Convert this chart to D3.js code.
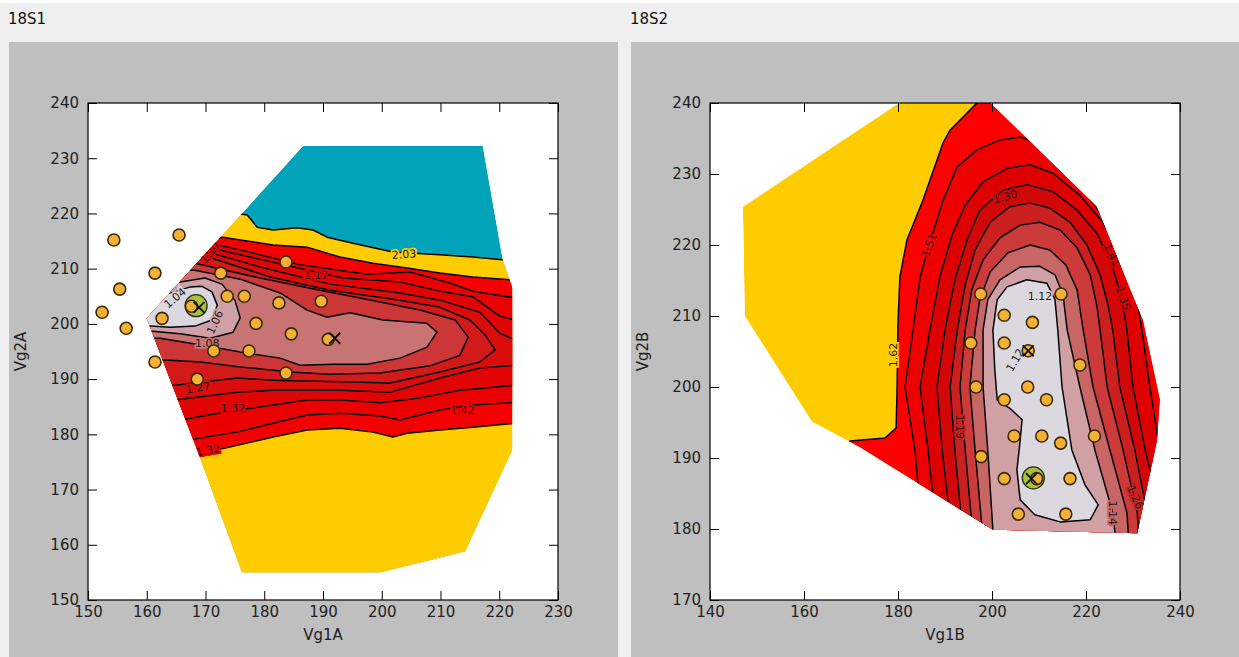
<!DOCTYPE html>
<html>
<head>
<meta charset="utf-8">
<script src="https://cdn.jsdelivr.net/npm/d3@7"></script>
<style>
  body { margin: 0; background: #efefef; }
  svg { display: block; font-family: "DejaVu Sans", sans-serif; }
</style>
</head>
<body>
<svg></svg>
<script>
// ---------- panel 1 (18S1) ----------
const xTicks1 = [150, 160, 170, 180, 190, 200, 210, 220, 230];
const yTicks1 = [150, 160, 170, 180, 190, 200, 210, 220, 230, 240];

// convex hull of the sampled region (Vg1A, Vg2A)
const hull1 = [[160,201],[186.6,232.2],[217.2,232.2],[220.6,211.6],[222.2,206.7],[222.2,177.1],[214.2,158.8],[199.7,155],[176.2,155],[168.8,176.5]];

// nested level regions, outer to inner
const gold1 = [[175.0,220.1],[177.1,219.7],[178.8,217.5],[181.5,217.0],[185.6,217.4],[188.3,217.0],[190.7,215.7],[195.1,214.6],[201.9,213.0],[209.9,212.5],[215.5,212.1],[220.5,211.6],[232,211.4],[232,140],[140,140],[140,220.1]];
const red1 = [[168.2,215.5],[170.8,215.2],[173.0,215.7],[175.9,215.2],[181.5,214.3],[187.3,213.9],[192.9,212.1],[198.5,211.0],[204.3,210.1],[209.9,209.2],[215.5,208.5],[222.7,207.9],[232,207.9],[232,182.0],
  [222.7,182.0],[215.5,181.3],[209.9,180.8],[204.3,180.2],[201.9,179.5],[198.5,180.4],[192.9,181.1],[187.3,180.8],[181.5,179.5],[175.4,178.0],[167.9,176.2],[140,176.2],[140,215.5]];
const s1 = [[168.2,214.6],[171.1,214.5],[175.9,213.4],[186.1,210.7],[197.5,209.0],[204.8,209.4],[211.6,207.4],[215.5,205.9],[222.7,204.7],[232,204.7],[232,185.8],
  [222.7,185.8],[215.5,185.3],[209.9,184.4],[203.1,182.6],[199.7,183.3],[192.9,183.8],[187.3,183.5],[181.5,182.0],[175.4,180.4],[166.5,178.9],[140,178.9],[140,214.6]];
const s2 = [[168.2,213.9],[171.1,213.7],[177.6,212.1],[193.4,208.3],[203.1,207.6],[210.4,205.8],[215.5,204.9],[220.1,201.4],[222.7,200.7],[232,200.7],[232,188.9],
  [222.7,188.9],[213.3,188.0],[206.5,186.6],[199.7,185.7],[192.9,186.2],[187.3,186.2],[181.5,185.3],[175.4,184.4],[165.7,182.6],[140,182.6],[140,213.9]];
const s3 = [[168.2,213.2],[171.1,212.8],[179.3,210.3],[191.2,207.2],[203.1,205.6],[209.9,204.3],[216.7,202.1],[220.1,198.3],[222.7,197.1],[232,197.1],[232,192.5],
  [222.7,192.5],[216.7,192.0],[209.9,190.2],[201.4,187.6],[192.9,188.0],[181.5,188.0],[175.4,187.6],[164.8,186.2],[140,186.2],[140,213.2]];
const s4 = [[168.2,212.3],[171.1,211.9],[181.0,208.5],[191.2,206.1],[203.1,204.3],[209.9,203.0],[215.0,200.7],[217.6,198.0],[219.3,195.3],[216.7,193.1],[209.9,191.3],
  [201.4,189.3],[192.9,189.5],[181.5,189.8],[175.4,190.2],[164.8,188.9],[140,188.9],[140,212.3]];
const m1 = [[168.2,211.0],[179.3,208.3],[189.5,206.1],[196.3,204.7],[206.5,202.5],[212.5,200.7],[214.7,197.6],[213.3,194.3],[208.2,192.4],[199.7,191.1],[191.2,190.9],
  [184.4,191.3],[175.9,192.2],[169.1,193.1],[164.0,193.4],[140,193.4],[140,211.0]];
const p1 = [[168.2,209.7],[175.9,208.1],[182.7,205.6],[187.3,202.5],[190.7,201.2],[194.6,202.0],[200.2,200.7],[207.7,200.1],[209.4,198.5],[207.7,195.8],[203.1,193.8],
  [197.5,192.7],[191.7,192.7],[186.1,192.5],[182.7,193.8],[175.9,194.9],[170.3,196.0],[162.3,197.4],[140,197.4],[140,209.7]];
const l1 = [[165.7,207.6],[169.9,208.3],[172.8,207.2],[175.0,204.3],[175.9,201.1],[174.7,198.5],[170.8,197.4],[165.7,198.2],[160.6,198.7],[140,198.7],[140,207.6]];
const c1 = [[162.3,205.2],[164.8,205.8],[167.4,206.7],[169.4,206.8],[171.1,205.8],[172.0,203.4],[171.1,200.7],[168.2,199.6],[164.0,199.4],[160.6,199.6],[140,199.6],[140,205.2]];
const bands1 = [hull1, gold1, red1, s1, s2, s3, s4, m1, p1, l1, c1];
const fills1 = ["#00a3b9", "#ffcc00", "#f40000", "#ea0000", "#e20404", "#da0c0c", "#d21a1a", "#cc3636", "#c87474", "#d0a0a8", "#dcd8e0"];

const labels1 = [["2.03",203.8,212.6,-4],["1.17",188.8,208.8,0],["1.17",170.8,213.0,-50],["1.04",164.8,204.7,-40],["1.06",171.6,200.3,-65],
  ["1.08",170.3,196.5,0],["1.27",168.7,188.4,-10],["1.32",174.7,184.7,0],["1.42",213.7,184.4,0],["1.32",170.4,177.1,-10]];

const pts1 = [[154.4,215.2],[165.5,216.1],[155.4,206.3],[161.4,209.2],[152.4,202.1],[156.5,199.2],[161.4,193.1],[162.6,201.0],[172.6,209.2],[173.7,205.0],[176.6,205.0],
  [171.4,195.1],[178.6,200.1],[177.4,195.1],[182.5,203.8],[183.7,211.2],[184.6,198.2],[189.7,204.1],[190.9,197.2],[183.7,191.1],[168.6,190.0],[167.6,203.2]];
const best1 = [168.4,203.3];
const cross1 = [[168.9,203.0],[192.0,197.4]];

// ---------- panel 2 (18S2) ----------
const xTicks2 = [140, 160, 180, 200, 220, 240];
const yTicks2 = [170, 180, 190, 200, 210, 220, 230, 240];

const hull2 = [[147.0,225.4],[191.8,245.1],[222.3,225.4],[229.4,213.7],[232.1,209.4],[235.7,198.2],[235.1,192.5],[230.9,179.4],[200.2,179.9],[171.9,191.5],[161.7,195.1],[147.4,210.0]];
const red2 = [[199.6,243.2],[196.8,240],[191.1,236.2],[189.6,234.4],[185.3,226.3],[181.9,220.7],[180.4,215.5],[180.0,209.0],[179.8,199.6],[179.6,194.2],[177.2,192.8],
  [169.8,192.4],[167.7,189.7],[167,170],[250,170],[250,250],[205,250]];
const a2 = [[185.7,175.6],[183.6,191.1],[181.5,200.0],[183.2,208.0],[184.7,215.5],[187.4,221.7],[189.6,226.3],[192.6,231.0],[196.8,233.4],[201.7,234.8],[206.0,235.2],
  [210.2,234.4],[216.0,230.6],[221.5,225.9],[227.2,220.7],[231.5,213.7],[234.0,208.0],[235.7,200.0],[238.3,191.1],[241.1,175.6]];
const b2 = [[188.9,175.6],[186.4,191.1],[184.7,200.0],[186.8,208.0],[188.9,215.5],[191.5,221.4],[194.3,225.6],[198.1,228.9],[203.2,230.8],[208.1,231.3],[213.0,230.1],
  [218.7,227.0],[223.6,223.2],[227.9,217.9],[230.9,212.3],[231.9,208.0],[233.6,200.0],[235.7,191.1],[237.9,182.3],[238.9,175.6]];
const c2 = [[192.1,175.6],[189.4,191.1],[188.3,200.0],[190.0,208.0],[192.1,215.1],[194.7,220.7],[197.4,224.9],[202.3,227.7],[207.4,228.5],[213.0,227.5],[218.1,224.9],
  [222.3,221.7],[225.5,217.2],[227.7,212.3],[228.7,208.0],[230.0,200.0],[232.6,191.1],[235.7,182.3],[236.8,175.6]];
const d2 = [[194.3,175.6],[192.1,191.1],[191.1,200.0],[192.6,208.0],[194.3,214.4],[196.4,219.3],[199.6,223.2],[203.8,225.4],[208.1,225.9],[212.3,225.2],[216.6,223.2],
  [220.2,220.0],[223.0,215.8],[224.7,211.5],[225.7,208.0],[227.2,200.0],[230.4,191.1],[233.0,182.3],[233.6,175.6]];
const e2 = [[196.4,175.6],[194.3,191.1],[193.2,200.0],[194.3,208.0],[195.7,213.7],[198.1,217.9],[201.7,221.0],[206.0,222.8],[210.2,223.2],[214.5,222.1],[218.1,219.6],
  [220.9,215.8],[222.3,211.5],[223.0,208.0],[224.5,200.0],[227.9,191.1],[230.9,182.3],[231.5,175.6]];
const f2 = [[198.5,175.6],[196.4,191.1],[195.3,200.0],[196.4,208.0],[197.4,212.3],[199.6,216.2],[203.4,218.9],[208.1,220.0],[212.3,219.3],[215.7,217.2],[218.1,213.7],
  [219.4,208.0],[221.5,200.0],[225.1,191.1],[228.7,182.3],[229.4,175.6]];
const g2 = [[200.6,175.6],[199.1,191.1],[198.1,200.0],[198.1,208.0],[199.1,212.3],[201.7,215.1],[206.0,216.9],[210.2,217.0],[213.4,215.8],[215.1,213.0],[216.0,208.0],
  [218.7,200.0],[221.9,191.1],[225.7,182.3],[226.8,175.6]];
const h2 = [[203.2,214.1],[207.4,215.1],[211.7,214.6],[213.4,212.3],[214.0,208.0],[214.9,200.0],[217.0,191.1],[219.8,186.2],[222.6,183.4],[220.9,181.3],[214.5,181.0],
  [209.1,182.0],[206.0,184.1],[205.3,188.3],[206.0,192.5],[206.4,195.4],[203.8,197.0],[201.1,198.2],[200.6,202.4],[200.2,208.0],[201.1,212.3]];
const bands2 = [hull2, red2, a2, b2, c2, d2, e2, f2, g2, h2];
const fills2 = ["#ffcc00", "#ff0000", "#ee0000", "#de0000", "#d20808", "#cc1f1f", "#cc3a3a", "#c86666", "#d0a0a4", "#dcd8e0"];

const labels2 = [["1.30",202.8,226.8,-15],["1.51",186.6,220.0,-70],["1.62",178.9,204.5,-90],["1.12",210.2,212.8,0],["1.12",204.9,203.8,-60],
  ["1.19",193.2,194.4,90],["1.14",225.7,182.3,90],["1.41",225.5,218.6,65],["1.35",227.9,212.5,70],["1.26",230.5,184.5,65]];

const pts2 = [[197.6,213.1],[214.7,213.1],[202.6,210.1],[208.6,209.1],[195.5,206.2],[202.6,206.2],[207.7,205.1],[218.7,203.1],[196.6,200.0],[207.6,200.0],[202.6,198.2],
  [211.6,198.2],[204.7,193.1],[210.6,193.1],[214.6,192.1],[221.8,193.1],[197.7,190.2],[202.6,187.1],[209.5,187.1],[216.6,187.1],[205.6,182.1],[215.7,182.1]];
const best2 = [208.8,187.2];
const cross2 = [[207.7,205.1],[208.4,187.1]];

// ---------- layout ----------
const W = 1239, H = 657;
const svg = d3.select("svg").attr("width", W).attr("height", H);
svg.append("rect").attr("width", W).attr("height", H).attr("fill", "#efefef");
svg.append("rect").attr("width", W).attr("height", 3).attr("fill", "#ffffff");
const defs = svg.append("defs");

const panels = [
  {title: "18S1", box: [9, 609], plot: [88, 558, 103, 600], xDom: [150, 230], yDom: [150, 240], xt: xTicks1, yt: yTicks1,
   xl: "Vg1A", yl: "Vg2A", ylx: 26, bands: bands1, fills: fills1, labels: labels1, pts: pts1, best: best1, crosses: cross1},
  {title: "18S2", box: [631, 608], plot: [710, 1180, 103, 600], xDom: [140, 240], yDom: [170, 240], xt: xTicks2, yt: yTicks2,
   xl: "Vg1B", yl: "Vg2B", ylx: 648, bands: bands2, fills: fills2, labels: labels2, pts: pts2, best: best2, crosses: cross2}
];

panels.forEach((p, i) => {
  const [pl, pr, pt, pb] = p.plot;
  const x = d3.scaleLinear().domain(p.xDom).range([pl, pr]);
  const y = d3.scaleLinear().domain(p.yDom).range([pb, pt]);
  const line = d3.line().x(d => x(d[0])).y(d => y(d[1]));

  // panel background + title
  svg.append("rect").attr("x", p.box[0]).attr("y", 42).attr("width", p.box[1]).attr("height", H - 42).attr("fill", "#bfbfbf");
  svg.append("text").attr("x", p.box[0] - 1).attr("y", 24).attr("font-size", 15).attr("fill", "#111").text(p.title);

  defs.append("clipPath").attr("id", "plot" + i).append("rect")
    .attr("x", pl).attr("y", pt).attr("width", pr - pl).attr("height", pb - pt);
  defs.append("clipPath").attr("id", "hull" + i).append("path").attr("d", line(p.bands[0]) + "Z");

  svg.append("rect").attr("x", pl).attr("y", pt).attr("width", pr - pl).attr("height", pb - pt).attr("fill", "#fff");

  const gPlot = svg.append("g").attr("clip-path", `url(#plot${i})`);
  const gHull = gPlot.append("g").attr("clip-path", `url(#hull${i})`);

  // filled contour bands and their lines
  p.bands.forEach((b, k) => {
    gHull.append("path")
      .attr("d", line(b) + "Z")
      .attr("fill", p.fills[k])
      .attr("stroke", k ? "#000" : "none")
      .attr("stroke-width", 1.5)
      .attr("stroke-linejoin", "round");
  });

  // contour labels: the halo takes the colour of the band under the label, so the line looks broken there
  const bandColor = d => {
    let c = p.fills[0];
    p.bands.forEach((b, k) => { if (d3.polygonContains(b, [d[1], d[2]])) c = p.fills[k]; });
    return c;
  };
  gHull.selectAll(".clab").data(p.labels).enter().append("text")
    .attr("class", "clab")
    .attr("transform", d => `translate(${x(d[1])},${y(d[2])}) rotate(${d[3]})`)
    .attr("text-anchor", "middle").attr("dy", "0.35em")
    .attr("font-size", 11).attr("fill", "#1a1a1a")
    .attr("stroke", bandColor).attr("stroke-width", 3.5).attr("paint-order", "stroke")
    .text(d => d[0]);

  // best point (green) then samples
  gPlot.append("circle").attr("cx", x(p.best[0])).attr("cy", y(p.best[1])).attr("r", 11)
    .attr("fill", "#a8c23a").attr("stroke", "#2a2a10").attr("stroke-width", 1.3);
  gPlot.selectAll(".pt").data(p.pts).enter().append("circle")
    .attr("class", "pt")
    .attr("cx", d => x(d[0])).attr("cy", d => y(d[1])).attr("r", 6)
    .attr("fill", "#f2b134").attr("stroke", "#3b2a0a").attr("stroke-width", 1.6);
  p.crosses.forEach(c => {
    const cx = x(c[0]), cy = y(c[1]), s = 5.5;
    gPlot.append("path").attr("d", `M${cx - s},${cy - s}L${cx + s},${cy + s}M${cx - s},${cy + s}L${cx + s},${cy - s}`)
      .attr("stroke", "#111").attr("stroke-width", 1.8);
  });

  // axes with inward ticks on all sides
  const fmt = d3.format("d");
  const styleAxis = g => {
    g.select(".domain").remove();
    g.selectAll("line").attr("stroke", "#000");
    g.selectAll("text").attr("font-size", 15).attr("fill", "#222").attr("font-family", "DejaVu Sans, sans-serif");
  };
  svg.append("g").attr("transform", `translate(0,${pb})`)
    .call(d3.axisBottom(x).tickValues(p.xt).tickSize(-9).tickPadding(6).tickFormat(fmt)).call(styleAxis);
  svg.append("g").attr("transform", `translate(0,${pt})`)
    .call(d3.axisTop(x).tickValues(p.xt).tickSize(-9).tickFormat("")).call(styleAxis);
  svg.append("g").attr("transform", `translate(${pl},0)`)
    .call(d3.axisLeft(y).tickValues(p.yt).tickSize(-9).tickPadding(9).tickFormat(fmt)).call(styleAxis);
  svg.append("g").attr("transform", `translate(${pr},0)`)
    .call(d3.axisRight(y).tickValues(p.yt).tickSize(-9).tickFormat("")).call(styleAxis);

  svg.append("rect").attr("x", pl).attr("y", pt).attr("width", pr - pl).attr("height", pb - pt)
    .attr("fill", "none").attr("stroke", "#000").attr("stroke-width", 1.2);

  svg.append("text").attr("x", (pl + pr) / 2).attr("y", 640).attr("text-anchor", "middle")
    .attr("font-size", 15).attr("fill", "#222").text(p.xl);
  svg.append("text").attr("transform", `translate(${p.ylx},${(pt + pb) / 2}) rotate(-90)`).attr("text-anchor", "middle")
    .attr("font-size", 15).attr("fill", "#222").text(p.yl);
});
</script>
</body>
</html>
